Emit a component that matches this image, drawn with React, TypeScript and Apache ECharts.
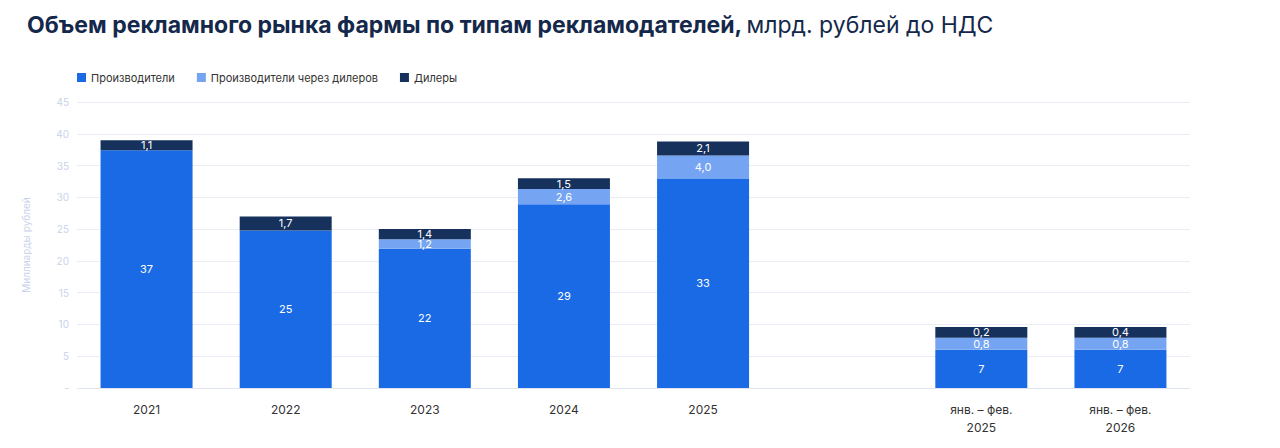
import React, { useEffect, useRef } from 'react';
import * as echarts from 'echarts';

const categories = ['2021', '2022', '2023', '2024', '2025', '', 'янв. – фев.\n2025', 'янв. – фев.\n2026'];
// segment heights as drawn
const producers = [37.4, 24.8, 21.9, 28.9, 32.9, null, 6.0, 6.0];
const viaDealers = [null, null, 1.5, 2.4, 3.7, null, 1.9, 1.9];
const dealers = [1.6, 2.2, 1.6, 1.7, 2.2, null, 1.7, 1.7];
// labels printed on the segments
const producersLabels = ['37', '25', '22', '29', '33', '', '7', '7'];
const viaDealersLabels = ['', '', '1,2', '2,6', '4,0', '', '0,8', '0,8'];
const dealersLabels = ['1,1', '1,7', '1,4', '1,5', '2,1', '', '0,2', '0,4'];

const App: React.FC = () => {
  const chartRef = useRef<HTMLDivElement | null>(null);

  useEffect(() => {
    if (!chartRef.current) return;
    const chart = echarts.init(chartRef.current, undefined, { renderer: 'svg' });

    const label = (texts: string[]) => ({
      show: true,
      color: '#ffffff',
      fontSize: 11,
      fontFamily: 'Inter',
      formatter: (p: any) => texts[p.dataIndex] || '',
    });

    chart.setOption({
      animation: false,
      textStyle: { fontFamily: 'Inter' },
      title: {
        left: 14,
        top: 0,
        text: '{b|Объем рекламного рынка фармы по типам рекламодателей,} {n|млрд. рублей до НДС}',
        textStyle: {
          rich: {
            b: { fontSize: 23, fontWeight: 'bold', color: '#14284b', fontFamily: 'Inter' },
            n: { fontSize: 23, fontWeight: 'normal', color: '#14284b', fontFamily: 'Inter' },
          },
        },
      },
      legend: {
        left: 64,
        top: 59,
        itemWidth: 9,
        itemHeight: 9,
        itemGap: 22,
        icon: 'rect',
        textStyle: { fontSize: 11, color: '#333' },
        data: ['Производители', 'Производители через дилеров', 'Дилеры'],
      },
      grid: { left: 69, right: 82, top: 94, bottom: 52 },
      xAxis: {
        type: 'category',
        data: categories,
        axisTick: { show: false },
        axisLine: { lineStyle: { color: '#e0e6f0' } },
        axisLabel: { fontSize: 12, color: '#333', lineHeight: 18, margin: 12 },
      },
      yAxis: {
        type: 'value',
        min: 0,
        max: 45,
        interval: 5,
        name: 'Миллиарды рублей',
        nameLocation: 'middle',
        nameGap: 46,
        nameTextStyle: { color: '#c8d4ea', fontSize: 10 },
        axisLabel: { color: '#c8d4ea', fontSize: 10, formatter: (v: number) => (v === 0 ? '-' : String(v)) },
        splitLine: { lineStyle: { color: '#e8edf6' } },
      },
      series: [
        {
          name: 'Производители',
          type: 'bar',
          stack: 'a',
          barWidth: 92,
          data: producers,
          itemStyle: { color: '#1a6ae6' },
          label: label(producersLabels),
        },
        {
          name: 'Производители через дилеров',
          type: 'bar',
          stack: 'a',
          data: viaDealers,
          itemStyle: { color: '#74a4f2' },
          label: label(viaDealersLabels),
        },
        {
          name: 'Дилеры',
          type: 'bar',
          stack: 'a',
          data: dealers,
          itemStyle: { color: '#16325c' },
          label: label(dealersLabels),
        },
      ],
    });

    return () => chart.dispose();
  }, []);

  return <div ref={chartRef} style={{ width: '1264px', height: '432px' }} />;
};

export default App;
